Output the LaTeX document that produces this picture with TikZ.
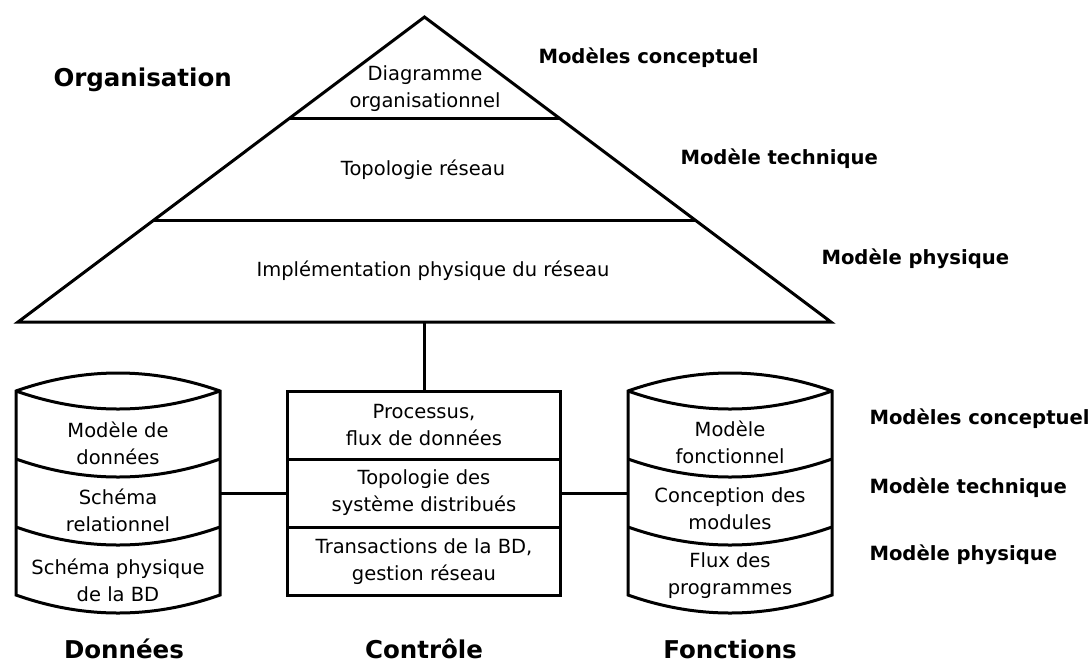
\documentclass[tikz,border=0pt]{standalone}
\usepackage{fontspec}
\setmainfont{DejaVu Sans}
\usetikzlibrary{calc}
\begin{document}
\begin{tikzpicture}[x=1pt,y=-1pt,line width=3pt,line join=miter,
  body/.style={font=\fontsize{19.5}{27}\selectfont, align=center, inner sep=0pt},
  layer/.style={body, draw, minimum width=273pt, minimum height=68pt},
  level/.style={font=\fontsize{19.6}{23}\selectfont\bfseries, anchor=base west, inner sep=0pt},
  heading/.style={font=\fontsize{24.5}{29}\selectfont\bfseries, inner sep=0pt},
  % a drum of three stacked layers, 204 wide; origin at the upper left corner
  pics/drum/.style={code={
    \draw (0,0) -- (0,204) .. controls (68,228) and (136,228) .. (204,204)
          -- (204,0) .. controls (136,-24) and (68,-24) .. (0,0) -- cycle;
    \draw (0,0)   .. controls (68,24)  and (136,24)  .. (204,0);
    \draw (0,68)  .. controls (68,92)  and (136,92)  .. (204,68);
    \draw (0,136) .. controls (68,160) and (136,160) .. (204,136);
    \coordinate (-west) at (0,102);
    \coordinate (-east) at (204,102);
  }}]
\useasboundingbox (0,0) rectangle (1090,665);

% organisation pyramid
\coordinate (apex) at (424.5,17);
\coordinate (tl) at (18,322);
\coordinate (tr) at (831,322);
\draw (tl) -- (apex) -- (tr) -- cycle;
\draw ($(apex)!1/3!(tl)$) -- ($(apex)!1/3!(tr)$);
\draw ($(apex)!2/3!(tl)$) -- ($(apex)!2/3!(tr)$);
\coordinate (tbase) at ($(tl)!0.5!(tr)$);

\node[body] (o1) at (425,89) {Diagramme\\organisationnel};
\node[body] (o2) at (423,170) {Topologie réseau};
\node[body] (o3) at (433,271) {Implémentation physique du réseau};

% control stack
\node[layer] (c1) at (424,425)   {Processus,\\flux de données};
\node[layer] (c2) at (424,493)   {Topologie des\\système distribués};
\node[layer] (c3) at (424,561.5) {Transactions de la BD,\\gestion réseau};

% data and function drums
\pic (dbL) at (16,391) {drum};
\pic (dbR) at (628,391) {drum};

\node[body] (dl1) at (118,443.5) {Modèle de\\données};
\node[body] (dl2) at (118,510.5) {Schéma\\relationnel};
\node[body] (dl3) at (118,580)   {Schéma physique\\de la BD};
\node[body] (fr1) at (730,442.5) {Modèle\\fonctionnel};
\node[body] (fr2) at (730,508.5) {Conception des\\modules};
\node[body] (fr3) at (730,576)   {Flux des\\programmes};

% links
\draw (c1.north |- tbase) -- (c1.north);
\draw (dbL-east) -- (c2.west);
\draw (c2.east) -- (dbR-west);

% level labels
\node[level] (t1) at (537,63)  {Modèles conceptuel};
\node[level] (t2) at (679,164) {Modèle technique};
\node[level] (t3) at (820,264) {Modèle physique};
\node[level] (r1) at (868,424) {Modèles conceptuel};
\node[level] (r2) at (868,493) {Modèle technique};
\node[level] (r3) at (868,560) {Modèle physique};

% headings
\node[heading, anchor=base west] (org) at (52,86) {Organisation};
\node[heading, anchor=base] (don) at (124,658) {Données};
\node[heading, anchor=base] (con) at (424,658) {Contrôle};
\node[heading, anchor=base] (fon) at (730,658) {Fonctions};
\end{tikzpicture}
\end{document}
